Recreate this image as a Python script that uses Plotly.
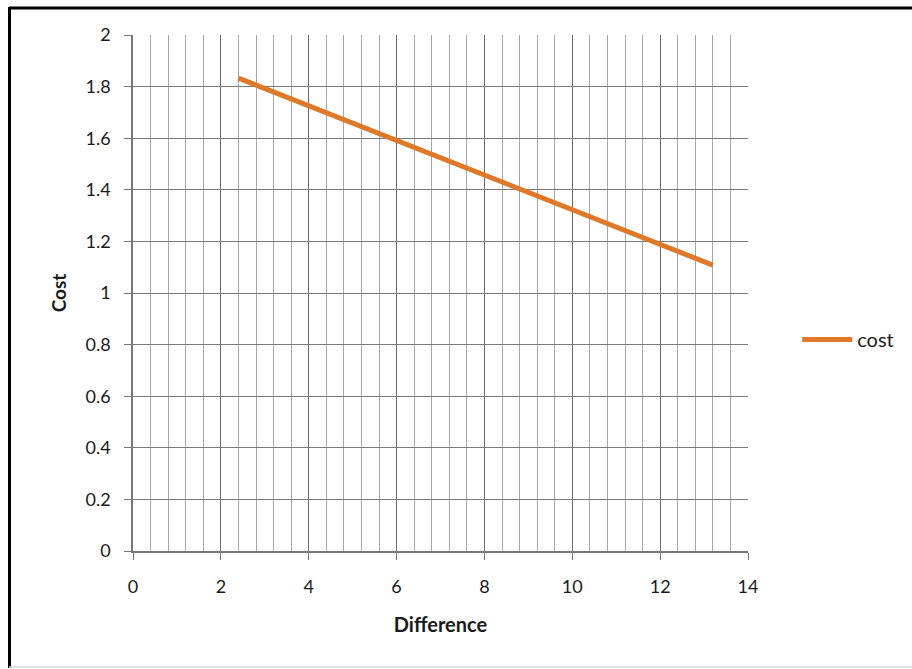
import plotly.graph_objects as go

difference = [2.4, 4, 6, 8, 10, 12, 13.2]
cost = [1.833, 1.726, 1.592, 1.458, 1.324, 1.190, 1.108]
series_name = "cost"

x_major = list(range(0, 15, 2))
x_minor_step = 0.4
y_ticks = [round(i * 0.2, 1) for i in range(11)]
y_labels = ["0", "0.2", "0.4", "0.6", "0.8", "1", "1.2", "1.4", "1.6", "1.8", "2"]

fig = go.Figure()
fig.add_trace(go.Scatter(
    x=difference, y=cost, mode="lines", name=series_name,
    line=dict(color="#E0782A", width=5),
))

fnt = "Lato, Open Sans, sans-serif"
txt = "#1a1a1a"

fig.update_layout(
    width=912, height=669,
    margin=dict(l=133, r=164, t=35, b=118),
    paper_bgcolor="white", plot_bgcolor="white",
    font=dict(family=fnt, size=16, color=txt),
    showlegend=True,
    legend=dict(x=1.08, y=0.41, xanchor="left", yanchor="middle",
                font=dict(family=fnt, size=20, color=txt), bgcolor="rgba(0,0,0,0)",
                itemwidth=50),
    xaxis=dict(
        range=[0, 14], tickvals=x_major, ticktext=[str(v) for v in x_major],
        showgrid=True, gridcolor="#6a6a6a", gridwidth=1.2,
        minor=dict(dtick=x_minor_step, tick0=0, showgrid=True, gridcolor="#a6a6a6", gridwidth=1.2),
        showline=True, linecolor="#777", linewidth=1.5,
        ticks="outside", ticklen=7, tickcolor="#777",
        ticklabelstandoff=12,
        tickfont=dict(family=fnt, size=18, color=txt),
        title=dict(text="<b>Difference</b>", font=dict(family=fnt, size=20, color=txt), standoff=22),
        zeroline=False,
    ),
    yaxis=dict(
        range=[0, 2], tickvals=y_ticks, ticktext=y_labels,
        showgrid=True, gridcolor="#7a7a7a", gridwidth=1.2,
        showline=True, linecolor="#777", linewidth=1.5,
        ticks="outside", ticklen=7, tickcolor="#777",
        ticklabelstandoff=10,
        tickfont=dict(family=fnt, size=18, color=txt),
        title=dict(text="<b>Cost</b>", font=dict(family=fnt, size=19, color=txt), standoff=14),
        zeroline=False,
    ),
)

# outer frame of the image
fig.add_shape(type="line", xref="paper", yref="paper",
              x0=(9 - 133) / 615, x1=(912 - 133) / 615,
              y0=(551 - 8) / 516, y1=(551 - 8) / 516,
              line=dict(color="black", width=3))
fig.add_shape(type="line", xref="paper", yref="paper",
              x0=(9.5 - 133) / 615, x1=(9.5 - 133) / 615,
              y0=(551 - 7) / 516, y1=(551 - 668) / 516,
              line=dict(color="black", width=3))
fig.add_shape(type="line", xref="paper", yref="paper",
              x0=(9 - 133) / 615, x1=(912 - 133) / 615,
              y0=(551 - 667) / 516, y1=(551 - 667) / 516,
              line=dict(color="#ddd", width=1.5))

fig.write_html("out.html")
